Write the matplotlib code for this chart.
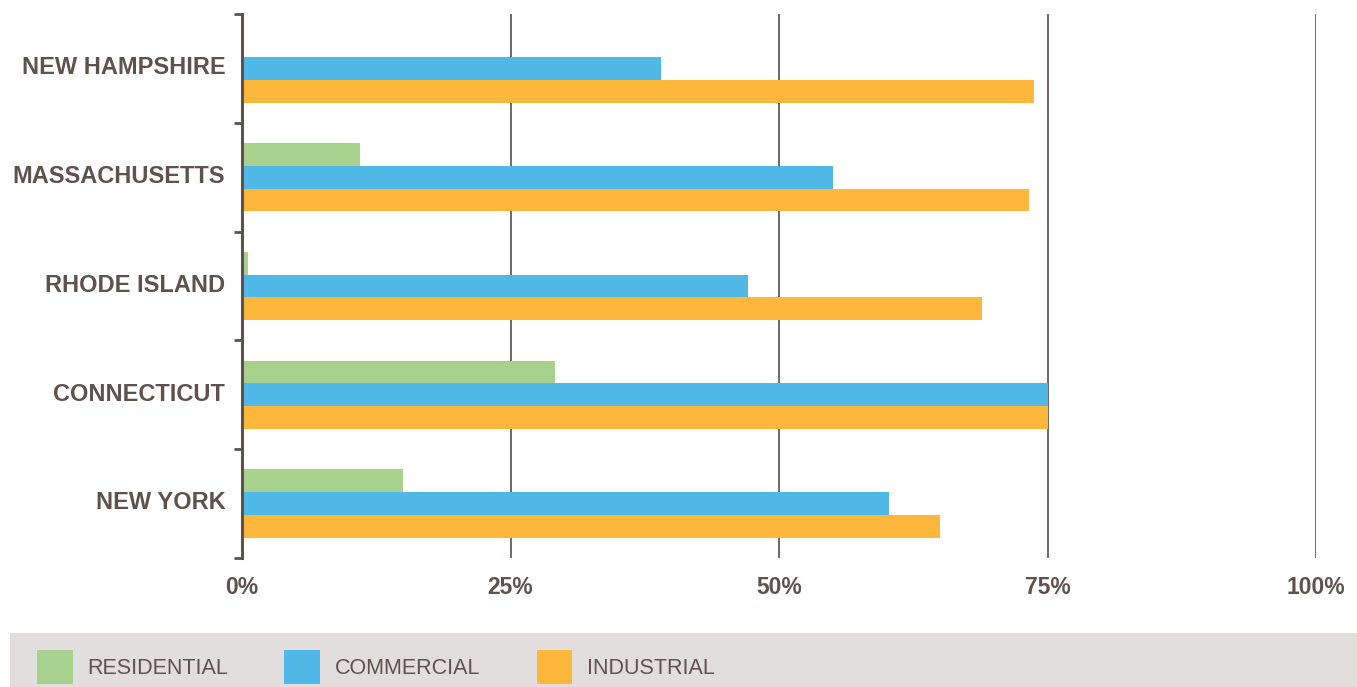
import matplotlib.pyplot as plt
from matplotlib.patches import Rectangle
import numpy as np

states = ["NEW HAMPSHIRE", "MASSACHUSETTS", "RHODE ISLAND", "CONNECTICUT", "NEW YORK"]
residential = [0, 11.0, 0.6, 29.1, 15.0]
commercial = [39.0, 55.0, 47.1, 75.0, 60.2]
industrial = [73.7, 73.3, 68.9, 75.0, 65.0]
series_names = ["RESIDENTIAL", "COMMERCIAL", "INDUSTRIAL"]
xticks = [0, 25, 50, 75, 100]
xtick_labels = ["0%", "25%", "50%", "75%", "100%"]

colors = ["#a9d18e", "#4fb8e7", "#fdb73b"]
txt = "#5f524e"

plt.rcParams['font.family'] = ['Liberation Sans', 'DejaVu Sans']

fig = plt.figure(figsize=(13.57, 6.87), dpi=100)
ax = fig.add_axes([242/1357, 1-558/687, (1316-242)/1357, (558-14)/687])

n = len(states)
y = np.arange(n)[::-1].astype(float)
h = 0.21
bars = []
for i, vals in enumerate([residential, commercial, industrial]):
    b = ax.barh(y + (1 - i) * h, vals, height=h, color=colors[i], label=series_names[i], zorder=2)
    bars.append(b)

ax.set_xlim(0, 100)
ax.set_ylim(-0.5, n - 0.5)
ax.set_xticks(xticks)
ax.set_xticklabels(xtick_labels, fontsize=16.5, fontweight='bold', color=txt)
ax.set_yticks(y + 0.03)
ax.set_yticklabels(states, fontsize=17, fontweight='bold', color=txt)
ax.set_yticks(np.arange(n + 1) - 0.5, minor=True)
ax.tick_params(axis='y', which='major', length=0, pad=12)
ax.tick_params(axis='y', which='minor', length=6, width=2, color=txt, direction='out')
ax.tick_params(axis='x', length=0, pad=13)

for v in xticks[1:]:
    ax.axvline(v, color="#655c5b", lw=1.3, zorder=1)

for s in ['top', 'right', 'bottom']:
    ax.spines[s].set_visible(False)
ax.spines['left'].set_color(txt)
ax.spines['left'].set_linewidth(2.2)
ax.spines['left'].set_zorder(3)

# legend band
fig.add_artist(Rectangle((10/1357, 0), 1 - 10/1357, 54/687, transform=fig.transFigure,
                         facecolor="#e2dedd", edgecolor='none', zorder=0))
fig.legend(handles=bars, labels=series_names, loc='center left',
           bbox_to_anchor=(37/1357, 1 - 667/687), ncol=3, frameon=False,
           prop={'size': 15.5}, labelcolor=txt, handlelength=1.65, handleheight=2.02,
           handletextpad=0.7, columnspacing=2.6, borderpad=0, borderaxespad=0)

fig.savefig("out.png", dpi=100)
